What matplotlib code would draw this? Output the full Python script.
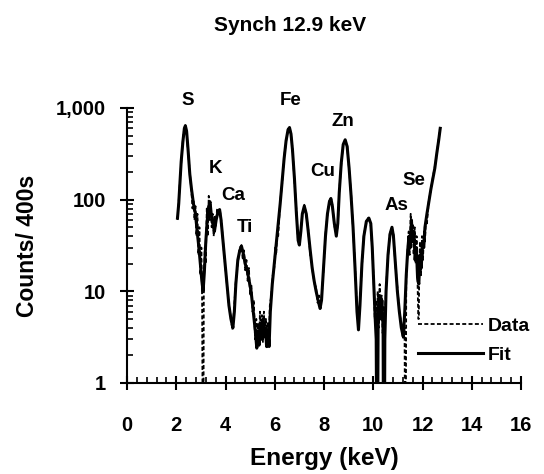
import matplotlib
matplotlib.use("Agg")
import matplotlib.pyplot as plt
from matplotlib.ticker import FixedLocator, MultipleLocator, LogLocator, NullFormatter

plt.rcParams['font.family'] = ['Liberation Sans', 'DejaVu Sans']
plt.rcParams['font.weight'] = 'bold'

title = "Synch 12.9 keV"
x_label = "Energy (keV)"
y_label = "Counts/ 400s"
x_ticks = [0, 2, 4, 6, 8, 10, 12, 14, 16]
y_ticks = [1, 10, 100, 1000]
y_tick_labels = ["1", "10", "100", "1,000"]

fit_energy = [2.05, 2.10, 2.15, 2.20, 2.27, 2.33, 2.37, 2.42, 2.48, 2.55, 2.62, 2.70, 2.78, 2.85, 2.92,
              2.98, 3.04, 3.09, 3.14, 3.20, 3.26, 3.32, 3.37, 3.42, 3.48, 3.55, 3.62, 3.70, 3.76, 3.82,
              3.90, 3.98, 4.06, 4.14, 4.22, 4.30, 4.36, 4.42, 4.50, 4.58, 4.65, 4.72, 4.80, 4.88, 4.96,
              5.04, 5.10, 5.16, 5.22, 5.27, 5.32, 5.37, 5.42, 5.47, 5.52, 5.57, 5.62, 5.67, 5.72, 5.77,
              5.82, 5.90, 5.98, 6.06, 6.14, 6.22, 6.30, 6.38, 6.46, 6.54, 6.60, 6.66, 6.72, 6.80, 6.88,
              6.95, 7.00, 7.06, 7.12, 7.20, 7.28, 7.36, 7.44, 7.52, 7.60, 7.68, 7.76, 7.84, 7.90, 7.98,
              8.06, 8.14, 8.22, 8.28, 8.34, 8.42, 8.50, 8.56, 8.62, 8.70, 8.78, 8.86, 8.94, 9.02, 9.10,
              9.18, 9.26, 9.34, 9.40, 9.46, 9.54, 9.62, 9.72, 9.82, 9.90, 9.96, 10.02, 10.08, 10.12, 10.15,
              10.17, 10.20, 10.25, 10.30, 10.35, 10.40, 10.42, 10.45, 10.47, 10.52, 10.60, 10.68, 10.76, 10.82, 10.90,
              10.98, 11.06, 11.14, 11.22, 11.28, 11.34, 11.40, 11.45, 11.50, 11.55, 11.60, 11.65, 11.70, 11.75, 11.80,
              11.85, 11.90, 11.95, 12.00, 12.05, 12.10, 12.18, 12.26, 12.34, 12.42, 12.50, 12.58, 12.66, 12.72]
fit_counts = [63, 90, 150, 260, 430, 600, 640, 560, 350, 190, 130, 90, 70, 45, 30,
              20, 13, 10, 16, 35, 60, 85, 95, 70, 55, 45, 60, 75, 78, 60,
              35, 20, 12, 7, 5, 4, 6, 12, 22, 28, 31, 26, 20, 17, 13,
              10, 7, 5, 3.5, 2.4, 3.5, 2.6, 4.5, 3, 5, 3.2, 4, 2.5, 3.8, 2.5,
              6, 12, 20, 33, 55, 90, 160, 280, 440, 580, 610, 520, 350, 170, 70,
              36, 32, 45, 70, 85, 70, 45, 28, 18, 13, 10, 8, 6.5, 8, 18,
              40, 70, 95, 103, 85, 55, 40, 55, 120, 250, 400, 450, 380, 220, 110,
              50, 18, 6, 3.8, 7, 20, 40, 58, 63, 55, 30, 12, 5, 3, 0.1,
              0.1, 6, 9, 5, 8, 4, 0.1, 0.1, 3, 10, 25, 42, 50, 40, 20,
              10, 6, 4, 3.2, 6, 15, 28, 40, 30, 60, 35, 45, 22, 30, 14,
              12, 25, 18, 35, 30, 50, 70, 95, 130, 170, 220, 320, 450, 600]

data_energy = [2.05, 2.10, 2.15, 2.20, 2.27, 2.33, 2.37, 2.42, 2.48, 2.55, 2.62, 2.66, 2.70, 2.74, 2.78,
               2.82, 2.86, 2.90, 2.94, 2.98, 3.02, 3.05, 3.08, 3.10, 3.12, 3.16, 3.20, 3.24, 3.28, 3.32,
               3.36, 3.40, 3.44, 3.48, 3.52, 3.56, 3.60, 3.66, 3.72, 3.78, 3.84, 3.90, 3.98, 4.06, 4.14,
               4.22, 4.28, 4.34, 4.42, 4.50, 4.58, 4.65, 4.70, 4.75, 4.80, 4.85, 4.90, 4.95, 5.00, 5.05,
               5.10, 5.15, 5.20, 5.25, 5.28, 5.32, 5.36, 5.40, 5.44, 5.48, 5.52, 5.56, 5.60, 5.64, 5.68,
               5.72, 5.76, 5.80, 5.86, 5.92, 5.98, 6.02, 6.06, 6.10, 6.14, 6.22, 6.30, 6.38, 6.46, 6.54,
               6.60, 6.66, 6.72, 6.80, 6.88, 6.95, 7.00, 7.06, 7.12, 7.20, 7.28, 7.36, 7.44, 7.50, 7.56,
               7.62, 7.68, 7.74, 7.80, 7.86, 7.92, 7.98, 8.06, 8.14, 8.22, 8.28, 8.34, 8.42, 8.50, 8.56,
               8.62, 8.70, 8.78, 8.86, 8.94, 9.02, 9.10, 9.18, 9.26, 9.34, 9.40, 9.46, 9.54, 9.62, 9.72,
               9.82, 9.90, 9.96, 10.02, 10.06, 10.10, 10.14, 10.18, 10.22, 10.26, 10.30, 10.34, 10.38, 10.42, 10.46,
               10.52, 10.60, 10.68, 10.76, 10.82, 10.90, 10.98, 11.06, 11.14, 11.22, 11.27, 11.30, 11.32, 11.34, 11.40,
               11.44, 11.48, 11.52, 11.56, 11.60, 11.64, 11.68, 11.72, 11.76, 11.80, 11.83, 11.85, 11.87, 11.90, 11.94,
               11.98, 12.02, 12.06, 12.10, 12.14, 12.18, 12.26, 12.34, 12.42, 12.50, 12.58, 12.66, 12.72]
data_counts = [60, 95, 160, 250, 450, 620, 650, 540, 330, 200, 120, 80, 100, 60, 85,
               40, 70, 25, 50, 15, 30, 8, 0.1, 0.1, 12, 30, 20, 80, 40, 110,
               60, 90, 50, 70, 40, 65, 50, 80, 70, 75, 55, 35, 20, 12, 7,
               5, 3.8, 6, 13, 20, 30, 32, 22, 28, 17, 22, 13, 18, 9, 12,
               6, 8, 3, 5, 2.4, 4.5, 2.5, 6, 3, 5.5, 2.8, 6, 3, 5, 2.4,
               4.5, 2.6, 7, 9, 15, 18, 30, 25, 45, 40, 95, 150, 290, 430, 590,
               620, 510, 360, 160, 75, 34, 33, 48, 68, 88, 68, 47, 25, 20, 15,
               12, 11, 7.5, 9, 6.5, 10, 17, 42, 68, 98, 100, 88, 52, 42, 52,
               125, 240, 410, 440, 390, 210, 115, 48, 19, 6.5, 4, 7.5, 19, 42, 55,
               65, 52, 28, 13, 5, 8, 3, 10, 4, 12, 5, 9, 3.5, 7, 4,
               11, 24, 44, 48, 42, 19, 11, 6, 4.5, 3, 4, 0.1, 0.1, 14, 30,
               45, 25, 70, 35, 55, 25, 50, 20, 40, 12, 5, 5, 20, 35, 15,
               40, 22, 45, 35, 60, 55, 100, 125, 175, 230, 310, 470, 620]

peak_names = ["S", "K", "Ca", "Ti", "Fe", "Cu", "Zn", "As", "Se"]
peak_label_x = [2.48, 3.58, 4.31, 4.80, 6.63, 7.93, 8.78, 10.93, 11.67]
peak_label_y = [1220, 221, 112, 50, 1220, 205, 720, 87, 160]

fig = plt.figure(figsize=(5.44, 4.74), dpi=100)
ax = fig.add_axes([127/544, 1 - 383/474, 394/544, 275/474])

ax.plot(data_energy, data_counts, color='black', linestyle=(0, (2.2, 1.3)), linewidth=1.3, label='Data')
ax.plot(fit_energy, fit_counts, color='black', linestyle='-', linewidth=2.2, label='Fit')

ax.set_yscale('log')
ax.set_xlim(0, 16)
ax.set_ylim(1, 1000)

for s in ['top', 'right']:
    ax.spines[s].set_visible(False)
for s in ['left', 'bottom']:
    ax.spines[s].set_linewidth(1.5)

ax.xaxis.set_major_locator(FixedLocator(x_ticks))
ax.xaxis.set_minor_locator(MultipleLocator(0.4))
ax.set_xticklabels([str(t) for t in x_ticks])
ax.yaxis.set_major_locator(FixedLocator(y_ticks))
ax.set_yticklabels(y_tick_labels)
ax.yaxis.set_minor_locator(LogLocator(base=10, subs=[2, 3, 4, 5, 6, 7, 8, 9]))
ax.yaxis.set_minor_formatter(NullFormatter())

ax.tick_params(axis='both', which='major', direction='inout', length=10, width=1.5, labelsize=14.5)
ax.tick_params(axis='x', which='major', pad=19)
ax.tick_params(axis='y', which='major', pad=10)
ax.tick_params(axis='both', which='minor', direction='in', length=4, width=1.2)
for lab in ax.get_xticklabels() + ax.get_yticklabels():
    lab.set_fontweight('bold')

ax.set_xlabel(x_label, fontsize=17.5, fontweight='bold')
ax.xaxis.set_label_coords(0.5, -(458 - 383) / 275, transform=ax.transAxes)
ax.xaxis.label.set_va('center')
ax.set_ylabel(y_label, fontsize=16.5, fontweight='bold')
ax.yaxis.set_label_coords(-(127 - 27) / 394, (383 - 246) / 275, transform=ax.transAxes)
ax.yaxis.label.set_va('center')
fig.text(290/544, 1 - 31/474, title, ha='center', va='baseline', fontsize=15, fontweight='bold')

for name, px, py in zip(peak_names, peak_label_x, peak_label_y):
    ax.text(px, py, name, ha='center', va='center', fontsize=13.5, fontweight='bold')

leg = ax.legend(loc='center left', bbox_to_anchor=(0.72, 0.155), frameon=False,
                handlelength=3.3, handletextpad=0.25, labelspacing=0.6, borderaxespad=0,
                prop={'weight': 'bold', 'size': 14})

fig.savefig('out.png', dpi=100)
